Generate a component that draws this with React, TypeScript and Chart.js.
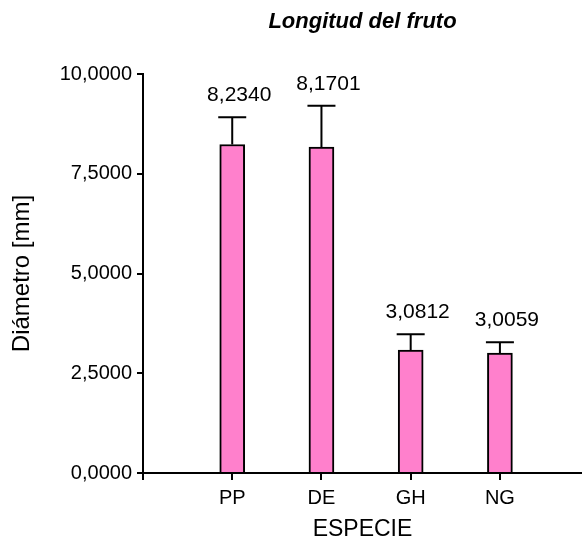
import { useEffect, useRef } from 'react';
import { Chart, registerables } from 'chart.js';

Chart.register(...registerables);

const categories = ['PP', 'DE', 'GH', 'NG'];
const means = [8.234, 8.1701, 3.0812, 3.0059];
const errors = [0.68, 1.035, 0.395, 0.27];
const yTicks = [0, 2.5, 5, 7.5, 10];

const FONT = "'Liberation Sans', Arial, sans-serif";
const fmt = (v: number) => v.toFixed(4).replace('.', ',');

const errorBarPlugin = {
  id: 'errorBars',
  afterDatasetsDraw(chart: any) {
    const { ctx } = chart;
    const meta = chart.getDatasetMeta(0);
    const y = chart.scales.y;
    ctx.save();
    ctx.strokeStyle = '#000';
    ctx.lineWidth = 2;
    meta.data.forEach((bar: any, i: number) => {
      const x = bar.x;
      const top = y.getPixelForValue(means[i] + errors[i]);
      const base = y.getPixelForValue(means[i]);
      ctx.beginPath();
      ctx.moveTo(x, base);
      ctx.lineTo(x, top);
      ctx.moveTo(x - 14, top);
      ctx.lineTo(x + 14, top);
      ctx.stroke();
      ctx.fillStyle = '#000';
      ctx.font = `21px ${FONT}`;
      ctx.textAlign = 'center';
      ctx.textBaseline = 'middle';
      ctx.fillText(fmt(means[i]), x + 7, top - 22);
    });
    ctx.restore();
  },
};

export default function App() {
  const ref = useRef<HTMLCanvasElement>(null);
  useEffect(() => {
    if (!ref.current) return;
    const chart = new Chart(ref.current, {
      type: 'bar',
      data: {
        datasets: [
          {
            data: means.map((v, i) => ({ x: i + 1, y: v })),
            backgroundColor: '#FF80CC',
            borderColor: '#000',
            borderWidth: 2,
            barThickness: 25,
          } as any,
        ],
      },
      options: {
        responsive: false,
        animation: false,
        devicePixelRatio: 1,
        layout: { padding: 0 },
        plugins: {
          legend: { display: false },
          tooltip: { enabled: false },
          title: {
            display: true,
            text: 'Longitud del fruto',
            fullSize: false,
            color: '#000',
            font: { family: FONT, size: 22, weight: 'bold', style: 'italic' },
            padding: { top: 9, bottom: 38.6 },
          },
        },
        scales: {
          x: {
            type: 'linear',
            min: 0,
            max: 4.92,
            offset: false,
            z: 1,
            afterBuildTicks: (s: any) => {
              s.ticks = [0, 1, 2, 3, 4].map((v) => ({ value: v }));
            },
            afterFit: (s: any) => {
              s.height = 70;
            },
            ticks: {
              callback: (v: any) => categories[v - 1] ?? '',
              color: '#000',
              font: { family: FONT, size: 20 },
              padding: 6,
              maxRotation: 0,
              autoSkip: false,
            },
            grid: { offset: false, drawOnChartArea: false, drawTicks: true, tickLength: 7, color: '#000', lineWidth: 2 },
            border: { display: true, color: '#000', width: 2 },
            title: {
              display: true,
              text: 'ESPECIE',
              color: '#000',
              font: { family: FONT, size: 23 },
              padding: { top: 0, bottom: 0 },
            },
          } as any,
          y: {
            min: 0,
            max: 10,
            z: 1,
            afterBuildTicks: (s: any) => {
              s.ticks = yTicks.map((v) => ({ value: v }));
            },
            afterFit: (s: any) => {
              s.width = 143;
            },
            ticks: {
              callback: (v: any) => fmt(Number(v)),
              color: '#000',
              font: { family: FONT, size: 20 },
              padding: 5,
            },
            grid: { drawOnChartArea: false, drawTicks: true, tickLength: 6, color: '#000', lineWidth: 2 },
            border: { display: true, color: '#000', width: 2 },
            title: {
              display: true,
              text: 'Diámetro [mm]',
              color: '#000',
              font: { family: FONT, size: 24 },
              padding: { top: 8, bottom: 0 },
            },
          } as any,
        },
      },
      plugins: [errorBarPlugin],
    });
    return () => chart.destroy();
  }, []);
  return (
    <div style={{ position: 'fixed', left: 0, top: 0, width: 582, height: 543, background: '#fff' }}>
      <canvas ref={ref} width={582} height={543} style={{ display: 'block' }} />
    </div>
  );
}
